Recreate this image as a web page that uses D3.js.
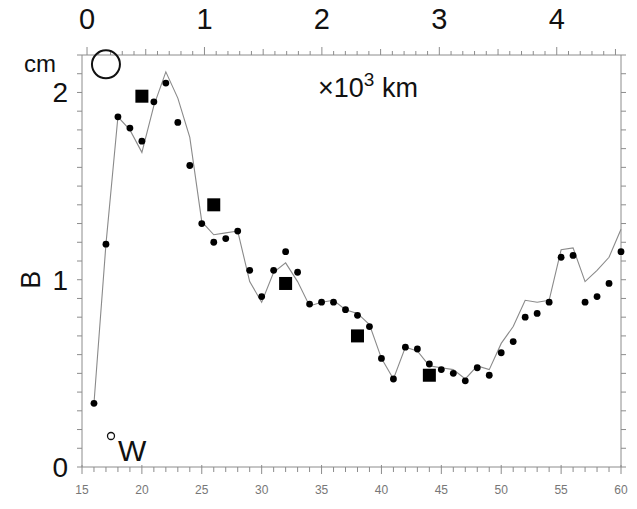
<!DOCTYPE html>
<html><head><meta charset="utf-8">
<script src="https://cdn.jsdelivr.net/npm/d3@7"></script>
<style>body{margin:0;background:#fff}svg{display:block}text{font-family:"Liberation Sans",Arial,sans-serif}</style>
</head><body><svg id="c" width="637" height="509"></svg>
<script>
// ---- data ----
const longitudes = [16,17,18,19,20,21,22,23,24,25,26,27,28,29,30,31,32,33,34,35,36,37,38,39,40,41,42,43,44,45,46,47,48,49,50,51,52,53,54,55,56,57,58,59,60];
const dotValues  = [0.34,1.19,1.87,1.81,1.74,1.95,2.05,1.84,1.61,1.30,1.20,1.22,1.26,1.05,0.91,1.05,1.15,1.04,0.87,0.88,0.88,0.84,0.81,0.75,0.58,0.47,0.64,0.63,0.55,0.52,0.50,0.46,0.53,0.49,0.61,0.67,0.80,0.82,0.88,1.12,1.13,0.88,0.91,0.98,1.15];
const lineValues = [0.34,1.19,1.87,1.80,1.68,1.93,2.11,1.97,1.76,1.31,1.24,1.25,1.26,0.99,0.88,1.04,1.09,0.99,0.86,0.88,0.89,0.84,0.82,0.76,0.58,0.47,0.64,0.62,0.54,0.53,0.52,0.47,0.54,0.52,0.66,0.75,0.89,0.88,0.89,1.16,1.17,0.99,1.05,1.12,1.27];
const squareLon = [20,26,32,38,44];
const squareValues = [1.98,1.40,0.98,0.70,0.49];
const circleLon = [17];
const circleValues = [2.15];
const bottomTickLabels = [15,20,25,30,35,40,45,50,55,60];
const leftTickLabels = [0,1,2];
const topTickLabels = [0,1,2,3,4]; // x10^3 km
const kmOriginLon = 15.42, kmPerDegree = 102;

// ---- layout ----
const svg = d3.select("#c");
const m = {l:82, r:16, t:55, b:42};
const W = 637, H = 509;
const x = d3.scaleLinear().domain([15,60]).range([m.l, W-m.r]);
const y = d3.scaleLinear().domain([0,2.2]).range([H-m.b, m.t]);
const xkm = d3.scaleLinear()
  .domain([(15-kmOriginLon)*kmPerDegree, (60-kmOriginLon)*kmPerDegree])
  .range([m.l, W-m.r]);
const axisCol = "#8c8c8c";

// frame lines
const g = svg.append("g");
g.append("line").attr("x1",x(15)).attr("x2",x(60)).attr("y1",y(0)).attr("y2",y(0)).attr("stroke",axisCol);
g.append("line").attr("x1",x(15)).attr("x2",x(60)).attr("y1",y(2.2)).attr("y2",y(2.2)).attr("stroke",axisCol);
g.append("line").attr("x1",x(15)).attr("x2",x(15)).attr("y1",y(0)).attr("y2",y(2.2)).attr("stroke",axisCol);
g.append("line").attr("x1",x(60)).attr("x2",x(60)).attr("y1",y(0)).attr("y2",y(2.2)).attr("stroke",axisCol);

// bottom ticks
const bt = d3.range(15,61,1);
g.selectAll(".bt").data(bt).enter().append("line")
  .attr("x1",d=>x(d)).attr("x2",d=>x(d))
  .attr("y1",d=>y(0)-(d%5===0?2:0)).attr("y2",d=>y(0)+(d%5===0?7:5))
  .attr("stroke",axisCol);
g.selectAll(".bl").data(bottomTickLabels).enter().append("text")
  .attr("x",d=>x(d)).attr("y",y(0)+27).attr("text-anchor","middle")
  .attr("font-size",12).attr("fill","#777").text(d=>d);

// left & right ticks
const yt = d3.range(0,23).map(i=>i/10);
g.selectAll(".lt").data(yt).enter().append("line")
  .attr("x1",x(15)-5).attr("x2",x(15)).attr("y1",d=>y(d)).attr("y2",d=>y(d)).attr("stroke",axisCol);
g.selectAll(".rt").data(yt).enter().append("line")
  .attr("x1",x(60)).attr("x2",x(60)+5).attr("y1",d=>y(d)).attr("y2",d=>y(d)).attr("stroke",axisCol);
g.selectAll(".ll").data(leftTickLabels).enter().append("text")
  .attr("x",x(15)-14).attr("y",d=>y(d)+10).attr("text-anchor","end")
  .attr("font-size",28).attr("fill","#111").text(d=>d);

// top km ticks
const kt = d3.range(0,4600,100);
g.selectAll(".tt").data(kt).enter().append("line")
  .attr("x1",d=>xkm(d)).attr("x2",d=>xkm(d))
  .attr("y1",y(2.2)).attr("y2",d=>y(2.2)-(d%1000===0?8:(d%500===0?6:4)))
  .attr("stroke",axisCol);
g.selectAll(".tl").data(topTickLabels).enter().append("text")
  .attr("x",d=>xkm(d*1000)).attr("y",29).attr("text-anchor","middle")
  .attr("font-size",29).attr("fill","#111").text(d=>d);

// axis titles
svg.append("text").attr("x",24).attr("y",72).attr("font-size",24).attr("fill","#111").text("cm");
svg.append("text").attr("transform",`translate(40,${y(1)}) rotate(-90)`).attr("text-anchor","middle")
  .attr("font-size",27).attr("fill","#111").text("B");
const t3 = svg.append("text").attr("x",318).attr("y",97).attr("font-size",27).attr("fill","#111");
t3.append("tspan").text("×10");
t3.append("tspan").attr("dy",-11).attr("font-size",19).text("3");
t3.append("tspan").attr("dy",11).text(" km");
svg.append("circle").attr("cx",111).attr("cy",436).attr("r",3.5).attr("fill","none").attr("stroke","#111").attr("stroke-width",1.3);
svg.append("text").attr("x",118).attr("y",461).attr("font-size",30).attr("fill","#111").text("W");

// line
const pts = longitudes.map((d,i)=>[d,lineValues[i]]);
svg.append("path").datum(pts)
  .attr("d", d3.line().x(d=>x(d[0])).y(d=>y(d[1])))
  .attr("fill","none").attr("stroke","#8a8a8a").attr("stroke-width",1.1);

// dots
svg.selectAll(".dot").data(longitudes).enter().append("circle")
  .attr("cx",d=>x(d)).attr("cy",(d,i)=>y(dotValues[i])).attr("r",3.4).attr("fill","#000");

// squares
const s = 13;
svg.selectAll(".sq").data(squareLon).enter().append("rect")
  .attr("x",d=>x(d)-s/2).attr("y",(d,i)=>y(squareValues[i])-s/2)
  .attr("width",s).attr("height",s).attr("fill","#000");

// open circle
svg.selectAll(".oc").data(circleLon).enter().append("circle")
  .attr("cx",d=>x(d)).attr("cy",(d,i)=>y(circleValues[i])).attr("r",14)
  .attr("fill","none").attr("stroke","#111").attr("stroke-width",2);
</script></body></html>
